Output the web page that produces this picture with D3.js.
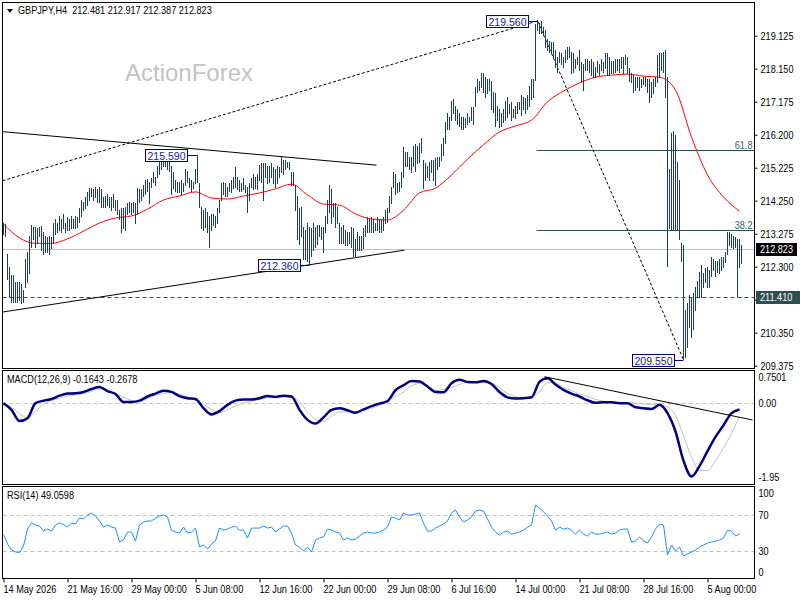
<!DOCTYPE html>
<html>
<head>
<meta charset="utf-8">
<script src="https://cdn.jsdelivr.net/npm/d3@7"></script>
<style>
  body { margin: 0; background: #fff; }
  svg { display: block; }
</style>
</head>
<body>
<svg width="800" height="600"></svg>
<script>
// ---- data (H4 bars) ----
const symbol = "GBPJPY,H4";
const lastOhlc = [212.481, 212.917, 212.387, 212.823];

const highs = [
  213.59, 213.56, 212.65, 212.29, 212.05, 212.05, 211.82, 211.82, 211.82, 211.76,
  211.61, 212.50, 212.71, 213.18, 213.53, 213.47, 213.47, 213.44, 213.47, 213.50,
  213.30, 213.18, 213.15, 213.18, 213.15, 213.59, 213.68, 213.59, 213.77, 213.68,
  213.83, 213.59, 213.74, 213.68, 213.77, 213.68, 213.77, 213.74, 214.03, 214.27,
  214.21, 214.33, 214.48, 214.62, 214.62, 214.57, 214.65, 214.57, 214.65, 214.57,
  214.33, 214.36, 214.42, 214.33, 214.33, 214.42, 214.27, 214.27, 213.97, 214.03,
  214.03, 214.06, 214.18, 214.21, 214.18, 214.21, 214.18, 214.62, 214.57, 214.57,
  214.71, 214.86, 214.89, 214.80, 214.92, 215.07, 214.95, 215.25, 215.39, 215.51,
  215.54, 215.55, 215.51, 215.45, 215.25, 215.07, 214.86, 214.80, 214.80, 214.86,
  214.77, 215.16, 215.10, 214.92, 214.86, 214.80, 215.16, 215.59, 214.77, 214.06,
  213.97, 214.03, 213.89, 213.77, 213.83, 213.83, 213.77, 214.03, 214.27, 214.77,
  214.80, 214.77, 214.65, 214.77, 214.86, 214.95, 215.22, 214.95, 214.86, 214.77,
  214.92, 214.71, 214.65, 214.77, 214.92, 215.01, 214.95, 215.01,
  215.30, 215.36, 215.36, 215.36, 215.25, 215.25, 215.36, 215.22, 215.16, 215.25,
  215.22, 215.54, 215.45, 215.45, 215.39, 215.39, 215.07, 215.07, 214.71, 214.36,
  214.03, 214.06, 213.47, 213.38, 213.59, 213.47, 213.44, 213.59, 213.47, 213.53,
  213.53, 213.47, 213.47, 213.77, 214.27, 214.71, 214.57, 214.18, 214.18, 214.06,
  213.59, 213.47, 213.53, 213.38, 213.32, 213.32, 213.47, 213.44, 213.09, 213.30,
  213.18, 213.18, 213.44, 213.53, 213.74, 213.68, 213.74, 213.68, 213.59, 213.74,
  213.68, 213.68, 213.74, 213.97, 214.03, 214.36, 214.65, 215.07, 215.01, 214.77,
  214.80, 215.07, 215.81, 215.66, 215.66, 215.54, 215.54, 215.84, 215.90, 215.84,
  215.95, 216.10, 215.45, 215.36, 215.25, 215.39, 215.45, 215.45, 215.51, 215.54,
  215.54, 215.90, 216.10, 216.55, 216.84, 216.72, 217.17, 217.23, 217.02, 216.93,
  216.84, 216.72, 216.72, 216.69, 216.84, 216.72, 216.99, 216.99, 217.58, 217.82,
  217.76, 218.02, 218.02, 217.90, 217.82, 217.82, 217.76, 217.46, 217.43, 217.02,
  216.93, 216.84, 216.93, 217.17, 217.31, 217.08, 217.14, 216.93, 217.02, 217.14,
  217.14, 217.37, 217.31, 217.28, 217.37, 217.61, 217.82, 217.82, 219.45,
  219.56, 219.50, 219.53, 219.38, 219.29, 219.00, 218.94, 218.91, 218.91, 218.70,
  218.47, 218.64, 218.61, 218.49, 218.70, 218.79, 218.79, 218.64, 218.61, 218.41,
  218.49, 218.70, 218.32, 218.26, 218.41, 218.41, 218.35, 218.41, 218.32, 218.20,
  218.35, 218.26, 218.41, 218.32, 218.61, 218.61, 218.47, 218.35, 218.35, 218.41,
  218.41, 218.41, 218.49, 218.47, 218.55, 218.49, 218.17, 218.02, 217.96, 217.88,
  217.90, 217.88, 217.82, 217.90, 217.90, 217.82, 217.82, 217.73, 217.82, 217.88,
  218.55, 218.61, 218.61, 218.64, 218.70, 217.90, 215.16, 216.25, 216.28, 216.19,
  215.39, 214.86, 213.00, 212.94, 211.02, 211.22, 211.46, 211.40, 211.52, 211.70,
  211.85, 212.14, 212.35, 212.11, 212.26, 212.29, 212.20, 212.56, 212.50, 212.44,
  212.44, 212.50, 212.56, 212.56, 212.73, 213.30, 213.30, 213.24, 213.18, 213.15,
  213.09, 213.09, 212.917
];

const lows = [
  213.24, 213.18, 211.91, 211.40, 211.25, 211.25, 211.25, 211.25, 211.31, 211.22,
  211.25, 211.70, 211.82, 212.11, 212.88, 213.09, 212.88, 213.00, 213.18, 212.79,
  212.65, 212.71, 212.73, 212.65, 212.85, 213.00, 213.24, 213.32, 213.38, 213.32,
  213.44, 213.32, 213.38, 213.38, 213.44, 213.44, 213.44, 213.47, 213.62, 213.77,
  213.97, 214.03, 214.12, 214.27, 214.36, 214.27, 214.33, 214.21, 214.21, 214.06,
  214.06, 214.06, 214.12, 214.06, 213.97, 214.06, 213.97, 213.83, 213.68, 213.30,
  213.44, 213.38, 213.83, 213.89, 213.83, 213.91, 213.59, 213.83, 214.21, 214.27,
  214.36, 214.42, 214.51, 214.18, 214.65, 214.80, 214.71, 214.95, 215.01, 215.16,
  215.25, 215.25, 215.16, 215.10, 214.42, 214.62, 214.51, 214.48, 214.48, 214.42,
  214.51, 214.71, 214.80, 214.65, 214.51, 214.62, 214.77, 214.80, 214.06, 213.44,
  213.38, 213.47, 213.30, 212.88, 213.38, 213.53, 213.47, 213.59, 213.89, 214.27,
  214.42, 214.36, 214.36, 214.51, 214.48, 214.62, 214.65, 214.57, 214.51, 214.51,
  214.57, 214.48, 213.89, 214.27, 214.65, 214.57, 214.62, 214.57,
  214.86, 214.80, 214.27, 214.95, 214.77, 214.80, 214.95, 214.77, 214.65, 214.77,
  214.95, 215.07, 215.01, 215.16, 215.22, 215.16, 214.71, 214.71, 213.97, 213.09,
  212.97, 213.18, 212.50, 212.50, 212.44, 212.36, 212.59, 212.79, 212.88, 212.97,
  213.18, 213.09, 212.71, 213.30, 213.59, 213.89, 213.59, 213.77, 213.47, 213.59,
  213.00, 213.00, 213.00, 212.94, 212.94, 213.00, 212.88, 212.59, 212.56, 212.79,
  212.79, 212.79, 212.85, 213.18, 213.30, 213.30, 213.30, 213.30, 213.38, 213.38,
  213.32, 213.32, 213.38, 213.59, 213.62, 213.89, 214.18, 214.65, 214.42, 214.48,
  214.51, 214.65, 214.95, 215.25, 215.25, 215.16, 215.07, 215.25, 215.10, 215.36,
  215.39, 215.66, 214.62, 214.86, 214.95, 214.86, 215.07, 214.86, 214.71, 215.16,
  215.25, 215.45, 215.60, 215.95, 216.34, 216.34, 216.63, 216.84, 216.63, 216.49,
  216.43, 216.34, 216.34, 216.40, 216.49, 216.55, 216.63, 216.49, 217.02, 217.46,
  217.52, 217.58, 217.46, 217.31, 217.43, 217.52, 216.93, 216.87, 216.43, 216.63,
  216.40, 216.43, 216.55, 216.63, 216.72, 216.84, 216.63, 216.72, 216.69, 216.84,
  216.93, 216.78, 216.93, 216.84, 216.93, 217.02, 217.23, 217.31, 217.80,
  219.29, 219.20, 219.20, 219.15, 218.79, 218.70, 218.64, 218.61, 218.49, 218.20,
  218.05, 218.32, 218.26, 218.20, 218.32, 218.41, 218.49, 218.02, 218.05, 218.17,
  218.26, 218.11, 217.76, 217.52, 218.11, 218.11, 218.05, 217.96, 217.88, 217.90,
  218.05, 217.96, 218.11, 218.05, 218.17, 217.96, 217.96, 218.02, 218.02, 218.05,
  218.11, 218.05, 218.17, 218.02, 218.26, 218.02, 217.76, 217.73, 217.46, 217.52,
  217.58, 217.52, 217.58, 217.67, 217.61, 217.46, 217.14, 217.31, 217.43, 217.61,
  217.73, 217.90, 218.11, 218.05, 217.31, 212.32, 213.44, 213.38, 213.38, 213.38,
  213.38, 213.09, 212.44, 209.55, 209.63, 209.90, 210.49, 210.22, 210.43, 211.02,
  211.40, 211.40, 211.40, 211.70, 211.82, 211.70, 211.70, 212.00, 212.20, 212.00,
  212.14, 212.11, 212.20, 212.29, 212.41, 212.65, 212.94, 212.88, 212.85, 212.88,
  211.41, 212.29, 212.387
];

// red moving average, one value every 8 bars
const maStep = 8;
const maValues = [
  213.56, 213.15, 212.99, 212.99, 213.12, 213.35, 213.59, 213.74, 213.80, 214.00,
  214.27, 214.39, 214.51, 214.33, 214.30, 214.39, 214.48, 214.60, 214.74, 214.42,
  214.15, 214.12, 213.86, 213.71, 213.68, 213.97, 214.48, 214.62, 215.01, 215.48,
  215.90, 216.28, 216.46, 216.63, 217.17, 217.49, 217.73, 217.90, 217.96, 217.99,
  217.93, 217.90, 217.52, 216.13, 215.01, 214.36, 213.94
];

// MACD(12,26,9), one value every 4 bars
const macdStep = 4;
const macdMain = [
  -0.01, -0.17, -0.44, -0.37, -0.01, 0.05, 0.09, 0.17, 0.22, 0.23,
  0.26, 0.33, 0.38, 0.28, 0.21, 0.02, 0.02, 0.05, 0.15, 0.22,
  0.29, 0.26, 0.16, 0.11, 0.09, -0.13, -0.28, -0.20, -0.05, 0.05,
  0.08, 0.08, 0.11, 0.16, 0.14, 0.17, 0.15, -0.17, -0.41, -0.50,
  -0.35, -0.17, -0.13, -0.18, -0.24, -0.16, -0.08, -0.02, 0.04, 0.30,
  0.42, 0.52, 0.51, 0.39, 0.26, 0.25, 0.47, 0.55, 0.50, 0.49,
  0.52, 0.45, 0.26, 0.13, 0.10, 0.11, 0.13, 0.50, 0.59, 0.44,
  0.31, 0.22, 0.15, 0.06, 0.00, 0.01, 0.01, -0.01, -0.01, -0.11,
  -0.13, -0.15, -0.05, -0.25, -0.69, -1.39, -1.77, -1.52, -1.16, -0.82,
  -0.54, -0.25, -0.16
];
const macdSignal = [
  0.00, -0.11, -0.26, -0.37, -0.20, -0.04, 0.05, 0.11, 0.16, 0.19,
  0.22, 0.27, 0.33, 0.29, 0.22, 0.13, 0.06, 0.02, 0.10, 0.18,
  0.22, 0.25, 0.20, 0.15, 0.06, -0.04, -0.16, -0.23, -0.17, -0.08,
  -0.01, 0.04, 0.08, 0.12, 0.14, 0.15, 0.12, 0.02, -0.22, -0.40,
  -0.45, -0.31, -0.22, -0.22, -0.22, -0.18, -0.13, -0.06, 0.05, 0.15,
  0.26, 0.41, 0.46, 0.38, 0.29, 0.32, 0.37, 0.44, 0.50, 0.49,
  0.48, 0.47, 0.36, 0.22, 0.15, 0.11, 0.15, 0.26, 0.49, 0.47,
  0.37, 0.29, 0.21, 0.15, 0.08, 0.04, 0.01, 0.01, 0.00, -0.01,
  -0.03, -0.04, -0.05, -0.10, -0.31, -0.79, -1.31, -1.62, -1.63, -1.39,
  -1.09, -0.74, -0.33
];
const macdLast = [-0.1643, -0.2678];

// RSI(14), one value every 2 bars
const rsiStep = 2;
const rsiValues = [
  48.5, 38.0, 31.4, 29.2, 28.6, 35.8, 54.5, 61.2, 59.0, 57.8,
  52.3, 54.5, 52.3, 59.0, 61.2, 59.5, 56.7, 61.2, 60.1, 66.7,
  65.6, 70.0, 72.2, 68.9, 63.4, 56.7, 59.0, 56.7, 55.6, 40.2,
  42.4, 51.2, 51.2, 41.3, 59.0, 62.3, 63.4, 63.4, 66.7, 68.9,
  70.0, 67.8, 53.4, 51.2, 50.1, 56.7, 50.1, 51.2, 55.6, 34.7,
  36.9, 32.5, 38.0, 41.3, 55.6, 53.4, 54.5, 56.7, 57.8, 53.4,
  53.4, 44.6, 55.6, 55.6, 55.6, 57.8, 55.6, 56.7, 51.2, 54.5,
  57.8, 57.8, 50.1, 36.9, 34.7, 30.3, 34.7, 29.2, 42.4, 44.6,
  45.7, 54.5, 53.4, 51.2, 50.1, 42.4, 44.6, 42.4, 43.5, 46.8,
  50.1, 51.2, 50.1, 50.1, 51.2, 53.4, 56.7, 67.8, 66.7, 64.5,
  72.2, 70.0, 70.0, 71.1, 72.2, 61.2, 52.3, 52.3, 55.6, 57.8,
  60.1, 63.4, 72.2, 75.5, 67.8, 62.3, 64.5, 67.8, 74.4, 75.5,
  74.4, 65.6, 56.7, 51.2, 47.9, 51.2, 52.3, 49.0, 50.1, 51.2,
  53.4, 56.7, 59.0, 81.0, 77.7, 73.3, 68.9, 63.4, 53.4, 56.7,
  54.5, 55.6, 53.4, 49.0, 53.4, 49.0, 46.8, 51.2, 49.0, 49.0,
  50.1, 51.2, 49.0, 50.1, 53.4, 54.5, 54.5, 40.2, 41.3, 45.7,
  41.3, 39.1, 45.7, 54.5, 60.1, 59.0, 25.9, 36.9, 30.3, 34.7,
  24.8, 27.0, 29.2, 31.4, 34.7, 36.9, 39.1, 40.2, 41.3, 42.4,
  44.6, 53.4, 52.3, 46.8, 49.1
];
const rsiLast = 49.0598;

// axes
const priceTicks = [219.125, 218.150, 217.175, 216.200, 215.225, 214.250, 213.275, 212.300, 211.325, 210.350, 209.375];
const macdTicks = [0.7501, 0, -1.95];
const macdTickLabels = ["0.7501", "0.00", "-1.95"];
const rsiTicks = [100, 70, 30, 0];
const rsiLevels = [70, 30];
const timeTickStep = 32;
const timeLabels = ["14 May 2026", "21 May 16:00", "29 May 00:00", "5 Jun 08:00", "12 Jun 16:00", "22 Jun 00:00",
  "29 Jun 08:00", "6 Jul 16:00", "14 Jul 00:00", "21 Jul 08:00", "28 Jul 16:00", "5 Aug 00:00"];

// annotations: [bar index, price]
const swingPoints = [
  { bar: 267, price: 219.560 },
  { bar: 97, price: 215.590 },
  { bar: 153, price: 212.360 },
  { bar: 340, price: 209.550 }
];
const trendLines = [
  { from: [-0.5, 214.84], to: [267, 219.56], dotted: true },
  { from: [267, 219.56], to: [340, 209.55], dotted: true },
  { from: [-0.5, 216.29], to: [186.5, 215.30] },
  { from: [-0.5, 210.96], to: [200.5, 212.79] }
];
const macdTrend = { from: [270.5, 0.625], to: [374.5, -0.414] };
const fibLevels = [61.8, 38.2];
const fibStartBar = 266.5;
const supportLevel = 211.410;

// ---- layout ----
// no narrow face is installed, so "nar" texts get squeezed at the end
const font = "'Liberation Sans', Arial, sans-serif";
const squeeze = 0.83;
const barColor = "#1c3f5f";
const slate = "#2f4f4f";

const svg = d3.select("svg");
const L = 2.5, R = 754.5;
const panels = {
  main: [2.5, 368.5],
  macd: [370.5, 484.5],
  rsi: [486.5, 578.5]
};

const x = d3.scaleLinear().domain([0, highs.length - 1]).range([3.5, 741.5]);
const y = d3.scaleLinear().domain([209.375, 219.125]).range([365.7, 35.7]);
const yMacd = d3.scaleLinear().domain([-1.95, 0.7501]).range([484, 371.5]);
const yRsi = d3.scaleLinear().domain([0, 100]).range([578.5, 487.8]);

const defs = svg.append("defs");
Object.entries(panels).forEach(([k, [t, b]]) => {
  defs.append("clipPath").attr("id", "clip-" + k)
    .append("rect").attr("x", L).attr("y", t).attr("width", R - L).attr("height", b - t);
});

// ---- main panel ----
const main = svg.append("g").attr("clip-path", "url(#clip-main)");

main.append("text")
  .attr("x", 125).attr("y", 81)
  .attr("font-family", font).attr("font-size", 24)
  .attr("fill", "#c3c3c3")
  .text("ActionForex");

// current price line and support dashed line
main.append("line")
  .attr("x1", L).attr("x2", R)
  .attr("y1", Math.round(y(lastOhlc[3])) + 0.5).attr("y2", Math.round(y(lastOhlc[3])) + 0.5)
  .attr("stroke", "#c0c0c0");
main.append("line")
  .attr("x1", L).attr("x2", R)
  .attr("y1", Math.round(y(supportLevel)) + 0.5).attr("y2", Math.round(y(supportLevel)) + 0.5)
  .attr("stroke", slate).attr("stroke-dasharray", "4,3");

// fibonacci retracement of the 219.560 -> 209.550 swing
const swingHigh = swingPoints[0].price, swingLow = swingPoints[3].price;
fibLevels.forEach(r => {
  const yy = Math.round(y(swingLow + (swingHigh - swingLow) * r / 100)) + 0.5;
  main.append("line")
    .attr("x1", x(fibStartBar)).attr("x2", R)
    .attr("y1", yy).attr("y2", yy)
    .attr("stroke", slate);
  main.append("text")
    .attr("class", "nar")
    .attr("x", R - 2).attr("y", yy - 2)
    .attr("text-anchor", "end")
    .attr("font-family", font).attr("font-size", 11)
    .attr("fill", "#3d5c6c")
    .text(r.toFixed(1));
});

// trend lines
main.append("g").selectAll("line").data(trendLines).join("line")
  .attr("x1", d => x(d.from[0])).attr("y1", d => y(d.from[1]))
  .attr("x2", d => x(d.to[0])).attr("y2", d => y(d.to[1]))
  .attr("stroke", "#000")
  .attr("stroke-width", 1)
  .attr("stroke-dasharray", d => d.dotted ? "3,2" : null);

// moving average
main.append("path")
  .datum(maValues)
  .attr("fill", "none")
  .attr("stroke", "#ff0000")
  .attr("stroke-width", 1)
  .attr("d", d3.line().x((d, i) => x(i * maStep)).y(d => y(d)).curve(d3.curveMonotoneX));

// price bars
main.append("g")
  .attr("shape-rendering", "crispEdges")
  .selectAll("line").data(highs).join("line")
  .attr("x1", (d, i) => x(i)).attr("x2", (d, i) => x(i))
  .attr("y1", d => y(d) - 0.5).attr("y2", (d, i) => y(lows[i]) + 0.5)
  .attr("stroke", barColor).attr("stroke-width", 1);

// swing labels
const sw = main.append("g").selectAll("g").data(swingPoints).join("g");
sw.append("line")
  .attr("x1", d => x(d.bar) - 10).attr("x2", d => x(d.bar))
  .attr("y1", d => Math.round(y(d.price)) + 0.5).attr("y2", d => Math.round(y(d.price)) + 0.5)
  .attr("stroke", "#000080");
sw.append("rect")
  .attr("x", d => Math.round(x(d.bar) - 52) + 0.5)
  .attr("y", d => Math.round(y(d.price) - 6) + 0.5)
  .attr("width", 42).attr("height", 12)
  .attr("fill", "#fff").attr("stroke", "#000080");
sw.append("text")
  .attr("x", d => Math.round(x(d.bar) - 52) + 21.5)
  .attr("y", d => Math.round(y(d.price) - 6) + 10.5)
  .attr("text-anchor", "middle")
  .attr("font-family", font).attr("font-size", 10.5)
  .attr("fill", "#1a1aa0")
  .text(d => d.price.toFixed(3));

// header
svg.append("path")
  .attr("d", "M7,9 L13,9 L10,13 Z")
  .attr("fill", "#000");
svg.append("text")
  .attr("class", "nar")
  .attr("x", 18).attr("y", 14)
  .attr("font-family", font).attr("font-size", 11)
  .attr("fill", "#000")
  .attr("xml:space", "preserve")
  .text(symbol + "  " + lastOhlc.map(v => v.toFixed(3)).join(" "));

// ---- MACD panel ----
const macd = svg.append("g").attr("clip-path", "url(#clip-macd)");
macd.append("line")
  .attr("x1", L).attr("x2", R)
  .attr("y1", Math.round(yMacd(0)) + 0.5).attr("y2", Math.round(yMacd(0)) + 0.5)
  .attr("stroke", "#c0c0c0").attr("stroke-dasharray", "4,3");
macd.append("path")
  .datum(macdSignal)
  .attr("fill", "none").attr("stroke", "#c0c0c0").attr("stroke-width", 1)
  .attr("d", d3.line().x((d, i) => x(i * macdStep)).y(d => yMacd(d)).curve(d3.curveMonotoneX));
macd.append("path")
  .datum(macdMain)
  .attr("fill", "none").attr("stroke", "#000080").attr("stroke-width", 2.5)
  .attr("d", d3.line().x((d, i) => x(i * macdStep)).y(d => yMacd(d)).curve(d3.curveMonotoneX));
macd.append("line")
  .attr("x1", x(macdTrend.from[0])).attr("y1", yMacd(macdTrend.from[1]))
  .attr("x2", x(macdTrend.to[0])).attr("y2", yMacd(macdTrend.to[1]))
  .attr("stroke", "#000");
svg.append("text")
  .attr("class", "nar")
  .attr("x", 7).attr("y", 383)
  .attr("font-family", font).attr("font-size", 11)
  .text("MACD(12,26,9) " + macdLast.map(v => v.toFixed(4)).join(" "));

// ---- RSI panel ----
const rsi = svg.append("g").attr("clip-path", "url(#clip-rsi)");
rsi.selectAll("line.lvl").data(rsiLevels).join("line")
  .attr("class", "lvl")
  .attr("x1", L).attr("x2", R)
  .attr("y1", d => Math.round(yRsi(d)) + 0.5).attr("y2", d => Math.round(yRsi(d)) + 0.5)
  .attr("stroke", "#c0c0c0").attr("stroke-dasharray", "4,3");
rsi.append("path")
  .datum(rsiValues)
  .attr("fill", "none").attr("stroke", "#1e90ff").attr("stroke-width", 1)
  .attr("d", d3.line().x((d, i) => x(i * rsiStep)).y(d => yRsi(d)));
svg.append("text")
  .attr("class", "nar")
  .attr("x", 7).attr("y", 499)
  .attr("font-family", font).attr("font-size", 11)
  .text("RSI(14) " + rsiLast.toFixed(4));

// ---- borders ----
Object.values(panels).forEach(([t, b]) => {
  svg.append("rect")
    .attr("x", L).attr("y", t).attr("width", R - L).attr("height", b - t)
    .attr("fill", "none").attr("stroke", "#000");
});

// ---- axes ----
function styleAxis(g) {
  g.select(".domain").remove();
  g.selectAll("text").attr("class", "nar")
    .attr("font-family", font).attr("font-size", 11).attr("fill", "#000");
  g.selectAll("line").attr("stroke", "#000");
}

svg.append("g")
  .attr("transform", `translate(${R},0)`)
  .call(d3.axisRight(y).tickValues(priceTicks).tickSize(3).tickPadding(3).tickFormat(d3.format(".3f")))
  .call(styleAxis);

svg.append("g")
  .attr("transform", `translate(${R},0)`)
  .call(d3.axisRight(yMacd).tickValues(macdTicks).tickSize(0).tickPadding(4)
    .tickFormat((d, i) => macdTickLabels[i]))
  .call(styleAxis)
  .selectAll(".tick text")
  .attr("y", d => d === macdTicks[0] ? 5.5 : d === macdTicks[2] ? -7 : 0);

svg.append("g")
  .attr("transform", `translate(${R},0)`)
  .call(d3.axisRight(yRsi).tickValues(rsiTicks).tickSize(0).tickPadding(4))
  .call(styleAxis)
  .selectAll(".tick text")
  .attr("y", d => d === 100 ? 5 : d === 0 ? -6.5 : 0);

svg.append("g")
  .attr("transform", `translate(0,${panels.rsi[1]})`)
  .call(d3.axisBottom(x).tickValues(d3.range(0, timeLabels.length * timeTickStep, timeTickStep))
    .tickSize(4).tickPadding(3).tickFormat((d, i) => timeLabels[i]))
  .call(styleAxis)
  .selectAll(".tick text").attr("text-anchor", "start").attr("x", -0.5);

// price tags on the right axis
const tags = [
  { price: lastOhlc[3], fill: "#000", w: 41 },
  { price: supportLevel, fill: slate, w: 44 }
];
const tg = svg.append("g").selectAll("g").data(tags).join("g");
tg.append("rect")
  .attr("x", 756).attr("y", d => Math.round(y(d.price)) - 6)
  .attr("width", d => d.w).attr("height", 13)
  .attr("fill", d => d.fill);
tg.append("text")
  .attr("class", "nar")
  .attr("x", 760).attr("y", d => Math.round(y(d.price)) + 4)
  .attr("font-family", font).attr("font-size", 11)
  .attr("fill", "#fff")
  .text(d => d.price.toFixed(3));

// squeeze the Tahoma-like texts to the narrower width of the original
svg.selectAll("text.nar").each(function () {
  const len = this.getComputedTextLength();
  d3.select(this).attr("textLength", len * squeeze).attr("lengthAdjust", "spacingAndGlyphs");
});
</script>
</body>
</html>
